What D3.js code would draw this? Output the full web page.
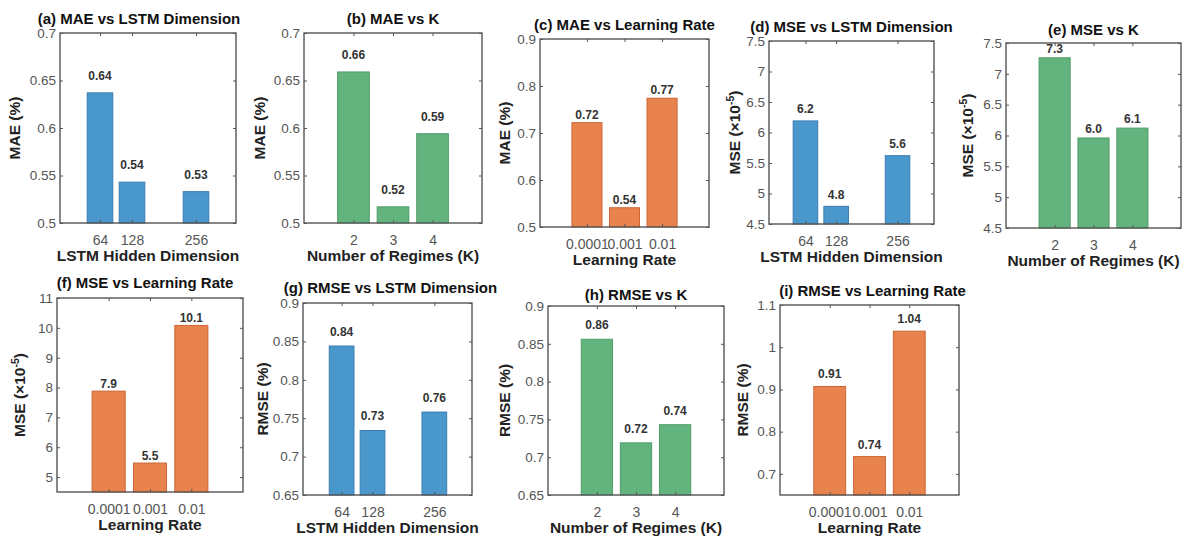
<!DOCTYPE html>
<html>
<head>
<meta charset="utf-8">
<script src="https://cdn.jsdelivr.net/npm/d3@7"></script>
<style>
  body { margin: 0; background: #fff; }
  svg { display: block; }
  text { font-family: "Liberation Sans", Arial, Helvetica, sans-serif; }
</style>
</head>
<body>
<svg id="chart" width="1182" height="538"></svg>
<script>
// Hyper-parameter categories
const lstmDims = [64, 128, 256];
const regimeCounts = [2, 3, 4];
const learningRates = ["0.0001", "0.001", "0.01"];
const lrIndex = [1, 2, 3];

// Error metrics per setting (MAE/RMSE in %, MSE in 1e-5)
const maeByDim = [0.637, 0.543, 0.533];
const maeByK = [0.659, 0.517, 0.594];
const maeByLr = [0.722, 0.541, 0.774];
const mseByDim = [6.19, 4.79, 5.62];
const mseByK = [7.26, 5.96, 6.12];
const mseByLr = [7.88, 5.47, 10.08];
const rmseByDim = [0.844, 0.734, 0.758];
const rmseByK = [0.856, 0.719, 0.743];
const rmseByLr = [0.907, 0.741, 1.038];

// Y tick values
const maeTicks = [0.5, 0.55, 0.6, 0.65, 0.7];
const maeLrTicks = [0.5, 0.6, 0.7, 0.8, 0.9];
const mseTicks = [4.5, 5, 5.5, 6, 6.5, 7, 7.5];
const mseLrTicks = [5, 6, 7, 8, 9, 10, 11];
const rmseTicks = [0.65, 0.7, 0.75, 0.8, 0.85, 0.9];
const rmseLrTicks = [0.7, 0.8, 0.9, 1, 1.1];

const colors = {
  blue:   { fill: "#4a98cb", stroke: "#3a7cb2" },
  green:  { fill: "#63b37e", stroke: "#4f9c68" },
  orange: { fill: "#e8834e", stroke: "#cc6534" }
};

const dimAxis = { xs: lstmDims, labels: lstmDims.map(String), barWidth: 0.8 * 64, name: "LSTM Hidden Dimension" };
const kAxis = { xs: regimeCounts, labels: regimeCounts.map(String), barWidth: 0.8, name: "Number of Regimes (K)" };
const lrAxis = { xs: lrIndex, labels: learningRates, barWidth: 0.8, name: "Learning Rate" };

const panels = [
  { title: "(a) MAE vs LSTM Dimension", axis: dimAxis, values: maeByDim, yDomain: [0.5, 0.7], yTicks: maeTicks,
    xDomain: [-16, 336], box: [60, 33, 236, 223], color: colors.blue, metric: "MAE", fmt: ".2f",
    labelGap: 13, titleGap: 9, titleDx: -9, yLabelOff: 45 },
  { title: "(b) MAE vs K", axis: kAxis, values: maeByK, yDomain: [0.5, 0.7], yTicks: maeTicks,
    xDomain: [0.75, 5.25], box: [304, 33, 482, 223], color: colors.green, metric: "MAE", fmt: ".2f",
    labelGap: 13, titleGap: 9.5, titleDx: 0, yLabelOff: 44 },
  { title: "(c) MAE vs Learning Rate", axis: lrAxis, values: maeByLr, yDomain: [0.5, 0.9], yTicks: maeLrTicks,
    xDomain: [-0.25, 4.25], box: [540, 39, 709, 227], color: colors.orange, metric: "MAE", fmt: ".2f",
    labelGap: 4, titleGap: 9, titleDx: 0, yLabelOff: 35 },
  { title: "(d) MSE vs LSTM Dimension", axis: dimAxis, values: mseByDim, yDomain: [4.5, 7.5], yTicks: mseTicks,
    xDomain: [-12, 332], box: [769, 41, 934, 224], color: colors.blue, metric: "MSE", fmt: ".1f",
    labelGap: 7.5, titleGap: 9, titleDx: 0, yLabelOff: 34 },
  { title: "(e) MSE vs K", axis: kAxis, values: mseByK, yDomain: [4.5, 7.5], yTicks: mseTicks,
    xDomain: [0.75, 5.25], box: [1006, 43, 1181, 228], color: colors.green, metric: "MSE", fmt: ".1f",
    labelGap: 5, titleGap: 8, titleDx: 0, yLabelOff: 38 },
  { title: "(f) MSE vs Learning Rate", axis: lrAxis, values: mseByLr, yDomain: [4.5, 11], yTicks: mseLrTicks,
    xDomain: [-0.25, 4.25], box: [57, 298, 243, 492], color: colors.orange, metric: "MSE", fmt: ".1f",
    labelGap: 3.5, titleGap: 10, titleDx: -5, yLabelOff: 37 },
  { title: "(g) RMSE vs LSTM Dimension", axis: dimAxis, values: rmseByDim, yDomain: [0.65, 0.9], yTicks: rmseTicks,
    xDomain: [-16, 334], box: [303, 303, 472, 495], color: colors.blue, metric: "RMSE", fmt: ".2f",
    labelGap: 10, titleGap: 10.5, titleDx: 3, yLabelOff: 40 },
  { title: "(h) RMSE vs K", axis: kAxis, values: rmseByK, yDomain: [0.65, 0.9], yTicks: rmseTicks,
    xDomain: [0.75, 5.25], box: [548, 306, 724, 495], color: colors.green, metric: "RMSE", fmt: ".2f",
    labelGap: 10, titleGap: 6, titleDx: 0, yLabelOff: 43 },
  { title: "(i) RMSE vs Learning Rate", axis: lrAxis, values: rmseByLr, yDomain: [0.65, 1.1], yTicks: rmseLrTicks,
    xDomain: [-0.25, 4.25], box: [780, 305, 959, 495], color: colors.orange, metric: "RMSE", fmt: ".2f",
    labelGap: 8, titleGap: 9.5, titleDx: 3, yLabelOff: 37 }
];

const svg = d3.select("#chart");
const axisColor = "#555";
const tickLen = 3;

panels.forEach(p => {
  const [x0, y0, x1, y1] = p.box;
  const g = svg.append("g");
  const x = d3.scaleLinear().domain(p.xDomain).range([x0, x1]);
  const y = d3.scaleLinear().domain(p.yDomain).range([y1, y0]);
  const halfW = p.axis.barWidth / 2;
  const data = p.axis.xs.map((xv, i) => ({ xv, v: p.values[i] }));

  // bars
  g.selectAll("rect.bar").data(data).join("rect")
    .attr("class", "bar")
    .attr("x", d => x(d.xv - halfW))
    .attr("width", d => x(d.xv + halfW) - x(d.xv - halfW))
    .attr("y", d => y(d.v))
    .attr("height", d => y(p.yDomain[0]) - y(d.v))
    .attr("fill", p.color.fill)
    .attr("stroke", p.color.stroke)
    .attr("stroke-width", 1);

  // value labels
  const fmt = d3.format(p.fmt);
  g.selectAll("text.val").data(data).join("text")
    .attr("class", "val")
    .attr("x", d => x(d.xv))
    .attr("y", d => y(d.v) - p.labelGap)
    .attr("text-anchor", "middle")
    .attr("font-size", 12)
    .attr("font-weight", "bold")
    .attr("fill", "#333")
    .text(d => fmt(d.v));

  // axes: inward ticks on all four sides, labels on left and bottom
  const styleAxis = sel => {
    sel.attr("font-family", null);
    sel.select(".domain").remove();
    sel.selectAll(".tick line").attr("stroke", axisColor).attr("stroke-width", 1);
    sel.selectAll(".tick text").attr("fill", "#555");
  };
  g.append("g").attr("transform", `translate(${x0},0)`)
    .call(d3.axisLeft(y).tickValues(p.yTicks).tickSizeInner(-tickLen).tickSizeOuter(0)
      .tickPadding(4).tickFormat(d => String(d)))
    .call(styleAxis)
    .call(s => s.selectAll(".tick text").attr("font-size", 13.5));
  g.append("g").attr("transform", `translate(${x1},0)`)
    .call(d3.axisRight(y).tickValues(p.yTicks).tickSizeInner(-tickLen).tickSizeOuter(0).tickFormat(""))
    .call(styleAxis);
  g.append("g").attr("transform", `translate(0,${y1})`)
    .call(d3.axisBottom(x).tickValues(p.axis.xs).tickSizeInner(-tickLen).tickSizeOuter(0)
      .tickPadding(12).tickFormat((d, i) => p.axis.labels[i]))
    .call(styleAxis)
    .call(s => s.selectAll(".tick text").attr("font-size", 14));
  g.append("g").attr("transform", `translate(0,${y0})`)
    .call(d3.axisTop(x).tickValues(p.axis.xs).tickSizeInner(-tickLen).tickSizeOuter(0).tickFormat(""))
    .call(styleAxis);

  // frame
  g.append("rect")
    .attr("x", x0).attr("y", y0)
    .attr("width", x1 - x0).attr("height", y1 - y0)
    .attr("fill", "none").attr("stroke", axisColor).attr("stroke-width", 1.4);

  // title
  g.append("text")
    .attr("x", (x0 + x1) / 2 + p.titleDx)
    .attr("y", y0 - p.titleGap)
    .attr("text-anchor", "middle")
    .attr("font-size", 15)
    .attr("font-weight", "bold")
    .attr("fill", "#111")
    .text(p.title);

  // x label
  g.append("text")
    .attr("x", (x0 + x1) / 2)
    .attr("y", y1 + 38)
    .attr("text-anchor", "middle")
    .attr("font-size", 15.5)
    .attr("font-weight", "bold")
    .attr("fill", "#222")
    .text(p.axis.name);

  // y label
  const yl = g.append("text")
    .attr("transform", `translate(${x0 - p.yLabelOff},${(y0 + y1) / 2}) rotate(-90)`)
    .attr("dy", "0.35em")
    .attr("text-anchor", "middle")
    .attr("font-size", 15.5)
    .attr("font-weight", "bold")
    .attr("fill", "#222");
  if (p.metric === "MSE") {
    yl.append("tspan").text("MSE (\u00d710");
    yl.append("tspan").attr("font-size", 10.5).attr("dy", -6).text("-5");
    yl.append("tspan").attr("dy", 6).text(")");
  } else {
    yl.text(`${p.metric} (%)`);
  }
});
</script>
</body>
</html>
